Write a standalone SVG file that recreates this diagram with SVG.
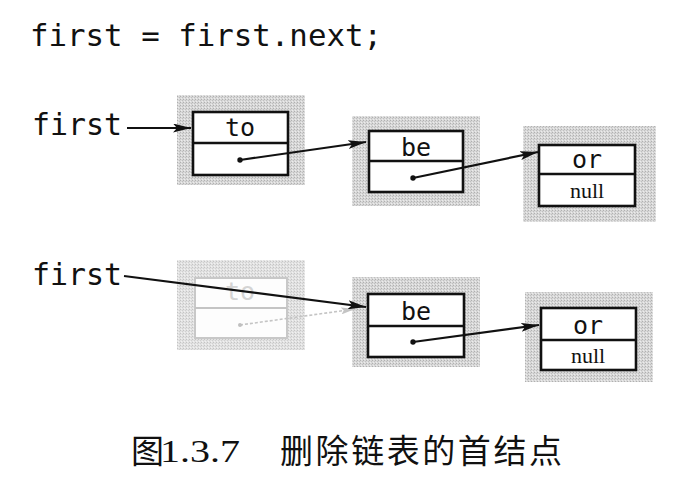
<svg xmlns="http://www.w3.org/2000/svg" width="699" height="482" viewBox="0 0 699 482">
<defs>
<pattern id="stip" width="3" height="3" patternUnits="userSpaceOnUse">
<rect width="3" height="3" fill="#d8d8d8"/>
<rect x="0" y="0" width="1" height="1" fill="#b0b0b0"/>
<rect x="2" y="1" width="1" height="1" fill="#c0c0c0"/>
<rect x="1" y="2" width="1" height="1" fill="#ececec"/>
</pattern>
<marker id="arr" viewBox="0 0 18 9" refX="18" refY="4.5" markerWidth="18" markerHeight="9" markerUnits="userSpaceOnUse" orient="auto">
<path d="M0,0 L18,4.5 L0,9 L4,4.5 Z" fill="#111"/>
</marker>
<marker id="arrf" viewBox="0 0 16 8" refX="16" refY="4" markerWidth="14" markerHeight="7" markerUnits="userSpaceOnUse" orient="auto">
<path d="M0,0 L16,4 L0,8 L3,4 Z" fill="#c4c4c4"/>
</marker>
<marker id="dot" viewBox="0 0 6 6" refX="3" refY="3" markerWidth="6" markerHeight="6" markerUnits="userSpaceOnUse">
<circle cx="3" cy="3" r="2.7" fill="#111"/>
</marker>
</defs>
<style>
.shadow{fill:url(#stip);}
.box{fill:#fff;stroke:#111;stroke-width:2.6;}
.div{stroke:#111;stroke-width:2.4;}
.mono{font-family:"DejaVu Sans Mono","Liberation Mono",monospace;fill:#111;}
.lbl{font-size:25px;text-anchor:middle;}
.null{font-family:"Liberation Serif","DejaVu Serif",serif;font-size:22px;text-anchor:middle;fill:#111;}
.ptr{stroke:#111;stroke-width:2.2;fill:none;}
.cap{font-family:"Liberation Serif","Noto Sans CJK SC",serif;font-size:31px;fill:#111;}
.capc{font-family:"Noto Sans CJK SC",sans-serif;font-size:33px;fill:#111;}
</style>
<rect width="699" height="482" fill="#fff"/>

<text class="mono" x="30" y="46" font-size="30" textLength="352" lengthAdjust="spacingAndGlyphs">first = first.next;</text>

<!-- Row 1 -->
<g id="label-first-1"><text class="mono" x="32" y="135" font-size="30" textLength="90" lengthAdjust="spacingAndGlyphs">first</text></g>
<g id="node-to-1">
<rect class="shadow" x="177" y="95" width="128" height="90"/>
<rect class="box" x="193" y="112" width="95" height="63"/>
<line class="div" x1="193" y1="143" x2="288" y2="143"/>
<text class="mono lbl" x="240" y="136">to</text>
</g>
<g id="node-be-1">
<rect class="shadow" x="352" y="116" width="128" height="90"/>
<rect class="box" x="369" y="131" width="94" height="61"/>
<line class="div" x1="369" y1="161" x2="463" y2="161"/>
<text class="mono lbl" x="416" y="156">be</text>
</g>
<g id="node-or-1">
<rect class="shadow" x="523" y="126" width="133" height="96"/>
<rect class="box" x="539" y="145" width="96" height="61"/>
<line class="div" x1="539" y1="174" x2="635" y2="174"/>
<text class="mono lbl" x="587" y="168">or</text>
<text class="null" x="587" y="198">null</text>
</g>

<!-- Row 2 -->
<g id="label-first-2"><text class="mono" x="32" y="285" font-size="30" textLength="90" lengthAdjust="spacingAndGlyphs">first</text></g>
<g id="node-to-2">
<rect x="177" y="260" width="128" height="90" fill="url(#stip)" opacity="0.75"/>
<rect x="195" y="278" width="92" height="60" fill="#fdfdfd" stroke="#c8c8c8" stroke-width="2"/>
<line x1="195" y1="308" x2="287" y2="308" stroke="#c4c4c4" stroke-width="2"/>
<text class="mono lbl" x="240" y="300" style="fill:#d4d4d4">to</text>
</g>
<g id="node-be-2">
<rect class="shadow" x="352" y="277" width="128" height="90"/>
<rect class="box" x="368" y="294" width="96" height="63"/>
<line class="div" x1="368" y1="326" x2="464" y2="326"/>
<text class="mono lbl" x="416" y="320">be</text>
</g>
<g id="node-or-2">
<rect class="shadow" x="525" y="292" width="128" height="90"/>
<rect class="box" x="541" y="308" width="95" height="62"/>
<line class="div" x1="541" y1="340" x2="636" y2="340"/>
<text class="mono lbl" x="588" y="334">or</text>
<text class="null" x="588" y="363">null</text>
</g>

<g id="connectors">
<line class="ptr" x1="127" y1="128" x2="191" y2="128" marker-end="url(#arr)"/>
<line class="ptr" x1="240" y1="160" x2="366" y2="142" marker-start="url(#dot)" marker-end="url(#arr)"/>
<line class="ptr" x1="413" y1="178" x2="538" y2="152" marker-start="url(#dot)" marker-end="url(#arr)"/>
<line x1="240" y1="325" x2="355" y2="309" stroke="#c4c4c4" stroke-width="1.6" stroke-dasharray="3,2" marker-end="url(#arrf)"/>
<circle cx="240" cy="325" r="2" fill="#c0c0c0"/>
<line class="ptr" x1="124" y1="276" x2="366" y2="307" marker-end="url(#arr)"/>
<line class="ptr" x1="413" y1="342" x2="539" y2="325" marker-start="url(#dot)" marker-end="url(#arr)"/>
</g>

<g id="caption">
<text class="capc" x="131" y="463" font-size="31">图</text>
<text class="cap" x="160" y="462" textLength="80" lengthAdjust="spacingAndGlyphs">1.3.7</text>
<text class="capc" x="280" y="463" textLength="282" lengthAdjust="spacing">删除链表的首结点</text>
</g>
</svg>
